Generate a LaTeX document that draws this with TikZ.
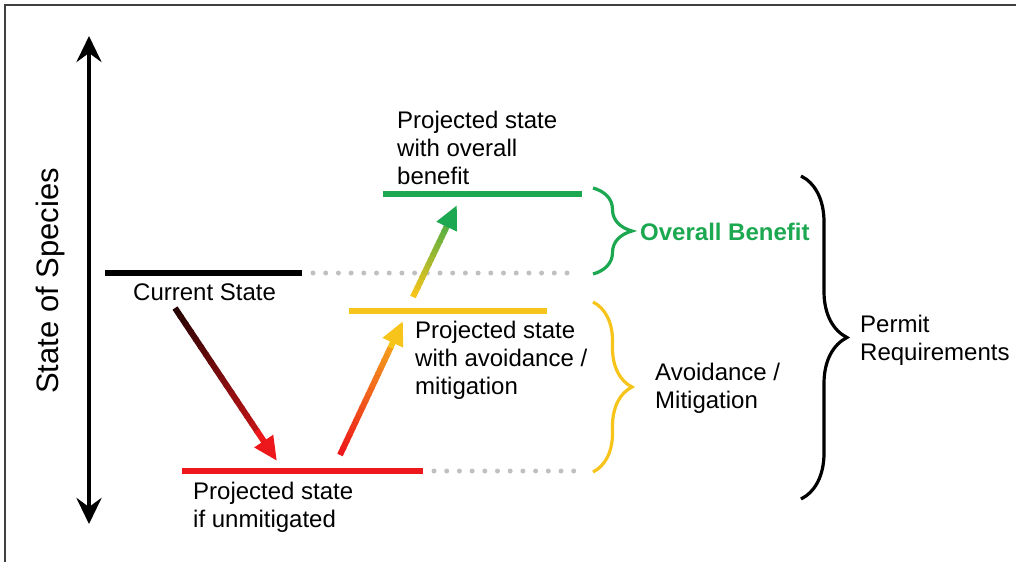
\documentclass[tikz,border=0pt]{standalone}
\usepackage{fontspec}
\setmainfont{Liberation Sans}
\usepackage{tikz}
\usetikzlibrary{arrows.meta,calc,decorations.pathreplacing}

\definecolor{benefitgreen}{RGB}{28,168,80}
\definecolor{mitigyellow}{RGB}{247,196,28}
\definecolor{lossred}{RGB}{236,24,28}
\definecolor{darkmaroon}{RGB}{40,4,4}
\definecolor{dotgray}{RGB}{192,192,192}

\tikzset{
  stateline/.style={line width=6pt},
  dotline/.style={line width=5pt, dotgray, line cap=round, dash pattern=on 0pt off 12.7pt},
  bracket/.style={decorate, decoration={brace, amplitude=#1}, line width=3.2pt},
  txt/.style={font=\fontsize{24}{28}\selectfont, inner sep=0pt, align=left, anchor=base west}
}

% arrow whose colour runs from #3 to #4
\newcommand{\gradarrow}[4]{%
  \foreach \i in {0,...,15}{
    \pgfmathsetmacro{\mixval}{100-\i*5}
    \draw[line width=6pt, color=#3!\mixval!#4] ($(#1)!{\i/20}!(#2)$) -- ($(#1)!{\i/20+0.06}!(#2)$);
  }
  \draw[line width=6pt, color=#4, -{Triangle[length=24pt,width=21pt]}] ($(#1)!0.8!(#2)$) -- (#2);
}

\begin{document}
\begin{tikzpicture}[x=1pt, y=-1pt]
    \useasboundingbox (0,0) rectangle (1016,562);
    % frame
    \draw[line width=2pt, black!75] (5,562) -- (5,5) -- (1016,5);

    % axis
    \coordinate (axis-top) at (89,36);
    \coordinate (axis-bot) at (89,524);
    \draw[line width=4.5pt, {Stealth[length=26pt,width=25pt,inset=9pt]}-{Stealth[length=26pt,width=25pt,inset=9pt]}] (axis-bot) -- (axis-top);
    \node[rotate=90, font=\fontsize{31}{38}\selectfont] (axis-lbl) at (50,281) {State of Species};

    % state levels
    \coordinate (cur-l) at (105,273);   \coordinate (cur-r) at (302,273);
    \coordinate (ben-l) at (383,194);   \coordinate (ben-r) at (582,194);
    \coordinate (mit-l) at (349,311);   \coordinate (mit-r) at (547,311);
    \coordinate (unm-l) at (182,471);   \coordinate (unm-r) at (423,471);
    \draw[stateline, black] (cur-l) -- (cur-r);
    \draw[stateline, benefitgreen] (ben-l) -- (ben-r);
    \draw[stateline, mitigyellow] (mit-l) -- (mit-r);
    \draw[stateline, lossred] (unm-l) -- (unm-r);

    \coordinate (cur-dots) at (578,273);
    \coordinate (unm-dots) at (580,471);
    \draw[dotline] ($(cur-r)+(11,0)$) -- (cur-dots);
    \draw[dotline] ($(unm-r)+(11,0)$) -- (unm-dots);

    % labels (anchored at the last line)
    \node[txt] (cur-txt) at (133,300) {Current State};
    \node[txt] (ben-txt) at (397,184) {Projected state\\with overall\\benefit};
    \node[txt] (mit-txt) at (415,394) {Projected state\\with avoidance /\\mitigation};
    \node[txt] (unm-txt) at (193,527) {Projected state\\if unmitigated};

    % arrows
    \coordinate (a1-s) at (175,308);  \coordinate (a1-e) at (277,461);
    \coordinate (a2-s) at (340,455);  \coordinate (a2-e) at (403,321);
    \coordinate (a3-s) at (413,297);  \coordinate (a3-e) at (457,205);
    \gradarrow{a1-s}{a1-e}{darkmaroon}{lossred}
    \gradarrow{a2-s}{a2-e}{lossred}{mitigyellow}
    \gradarrow{a3-s}{a3-e}{mitigyellow}{benefitgreen}

    % braces
    \coordinate (ob-top) at (593,188);  \coordinate (ob-bot) at (593,274);
    \coordinate (am-top) at (593,302);  \coordinate (am-bot) at (593,472);
    \coordinate (pr-top) at (801,176);  \coordinate (pr-bot) at (801,499);
    \draw[bracket=39pt, benefitgreen] (ob-top) -- (ob-bot);
    \draw[bracket=39pt, mitigyellow] (am-top) -- (am-bot);
    \draw[bracket=46pt, black] (pr-top) -- (pr-bot);

    \node[txt, font=\fontsize{24}{28}\selectfont\bfseries, text=benefitgreen] (ob-txt) at (640,240) {Overall Benefit};
    \node[txt] (am-txt) at (655,408) {Avoidance /\\Mitigation};
    \node[txt] (pr-txt) at (860,360) {Permit\\Requirements};
\end{tikzpicture}
\end{document}
